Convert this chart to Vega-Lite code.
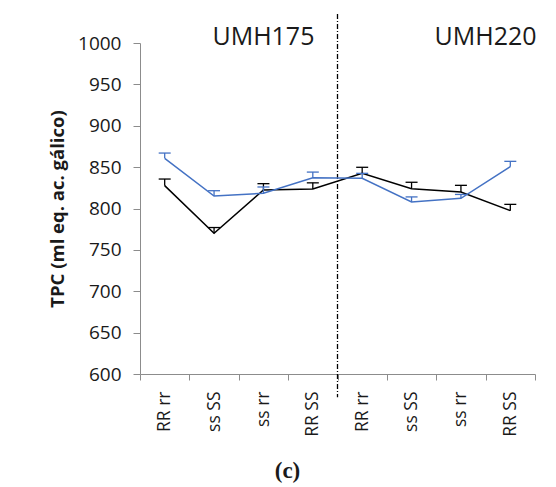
{
  "$schema": "https://vega.github.io/schema/vega-lite/v6.json",
  "width": 395,
  "height": 331,
  "autosize": "none",
  "padding": {"left": 140, "top": 43, "right": 21, "bottom": 113},
  "config": {
    "view": {"stroke": null},
    "font": "Open Sans",
    "axis": {"grid": false, "domainColor": "#8c8c8c", "tickColor": "#8c8c8c", "labelColor": "#1a1a1a", "titleColor": "#1a1a1a"}
  },
  "title": {"text": "(c)", "orient": "bottom", "anchor": "middle", "dx": -50, "offset": 24, "fontSize": 23, "fontWeight": "bold", "font": "Liberation Serif", "color": "#1a1a1a", "baseline": "top"},
  "datasets": {
    "pts": [
      {"series": "negro", "key": "UMH175 RR rr", "value": 827.6, "upper": 835.6},
      {"series": "negro", "key": "UMH175 ss SS", "value": 770, "upper": 777},
      {"series": "negro", "key": "UMH175 ss rr", "value": 822.4, "upper": 830},
      {"series": "negro", "key": "UMH175 RR SS", "value": 823.6, "upper": 831},
      {"series": "negro", "key": "UMH220 RR rr", "value": 842.5, "upper": 849.8},
      {"series": "negro", "key": "UMH220 ss SS", "value": 824, "upper": 831.7},
      {"series": "negro", "key": "UMH220 ss rr", "value": 820, "upper": 828},
      {"series": "negro", "key": "UMH220 RR SS", "value": 797.4, "upper": 805},
      {"series": "azul", "key": "UMH175 RR rr", "value": 860.6, "upper": 867},
      {"series": "azul", "key": "UMH175 ss SS", "value": 815, "upper": 821.5},
      {"series": "azul", "key": "UMH175 ss rr", "value": 818.4, "upper": 826},
      {"series": "azul", "key": "UMH175 RR SS", "value": 837.2, "upper": 844},
      {"series": "azul", "key": "UMH220 RR rr", "value": 836.5, "upper": 842.5},
      {"series": "azul", "key": "UMH220 ss SS", "value": 807.9, "upper": 814},
      {"series": "azul", "key": "UMH220 ss rr", "value": 812.3, "upper": 817},
      {"series": "azul", "key": "UMH220 RR SS", "value": 850.5, "upper": 857}
    ],
    "label175": [{"key": "UMH175 ss rr", "text": "UMH175"}],
    "label220": [{"key": "UMH220 RR SS", "text": "UMH220"}],
    "sep": [{"key": "UMH175 RR SS", "top": 1035, "bottom": 572}]
  },
  "layer": [
    {
      "data": {"name": "sep"},
      "mark": {"type": "rule", "color": "#000000", "strokeWidth": 1.3, "strokeDash": [5, 2, 1, 2]},
      "encoding": {
        "x": {"field": "key", "type": "nominal", "bandPosition": 1},
        "y": {"field": "top", "type": "quantitative"},
        "y2": {"field": "bottom"}
      }
    },
    {
      "data": {"name": "pts"},
      "mark": {"type": "line", "strokeWidth": 1.5},
      "encoding": {
        "x": {"field": "key", "type": "nominal"},
        "y": {"field": "value", "type": "quantitative"},
        "color": {"field": "series", "type": "nominal", "legend": null}
      }
    },
    {
      "data": {"name": "pts"},
      "mark": {"type": "rule", "strokeWidth": 1.3},
      "encoding": {
        "x": {"field": "key", "type": "nominal"},
        "y": {"field": "value", "type": "quantitative"},
        "y2": {"field": "upper"},
        "color": {"field": "series", "type": "nominal", "legend": null}
      }
    },
    {
      "data": {"name": "pts"},
      "mark": {"type": "tick", "size": 12, "thickness": 1.3, "opacity": 1},
      "encoding": {
        "x": {"field": "key", "type": "nominal"},
        "y": {"field": "upper", "type": "quantitative"},
        "color": {"field": "series", "type": "nominal", "legend": null}
      }
    },
    {
      "data": {"name": "label175"},
      "mark": {"type": "text", "fontSize": 25, "font": "Open Sans", "color": "#1a1a1a", "baseline": "middle", "align": "center"},
      "encoding": {
        "x": {"field": "key", "type": "nominal", "bandPosition": 0.5},
        "y": {"datum": 1007, "type": "quantitative"},
        "text": {"field": "text"}
      }
    },
    {
      "data": {"name": "label220"},
      "mark": {"type": "text", "fontSize": 25, "font": "Open Sans", "color": "#1a1a1a", "baseline": "middle", "align": "center"},
      "encoding": {
        "x": {"field": "key", "type": "nominal", "bandPosition": 0},
        "y": {"datum": 1007, "type": "quantitative"},
        "text": {"field": "text"}
      }
    }
  ],
  "encoding": {
    "x": {
      "field": "key",
      "type": "nominal",
      "scale": {"type": "band", "domain": ["UMH175 RR rr", "UMH175 ss SS", "UMH175 ss rr", "UMH175 RR SS", "UMH220 RR rr", "UMH220 ss SS", "UMH220 ss rr", "UMH220 RR SS"], "paddingInner": 0, "paddingOuter": 0},
      "axis": {"title": null, "labelExpr": "slice(datum.label, 7)", "labelAngle": -90, "labelAlign": "right", "labelBaseline": "middle", "labelFontSize": 17.5, "labelPadding": 11, "tickSize": 6, "tickBand": "extent"}
    },
    "y": {
      "type": "quantitative",
      "scale": {"domain": [600, 1000], "nice": false, "zero": false},
      "axis": {"title": "TPC (ml eq. ac. gálico)", "titleFontSize": 18.5, "titleFontWeight": "bold", "titlePadding": 10, "labelFontSize": 19, "labelPadding": 12, "tickSize": 7, "format": "d", "values": [600, 650, 700, 750, 800, 850, 900, 950, 1000]}
    },
    "color": {
      "scale": {"domain": ["negro", "azul"], "range": ["#000000", "#4472C4"]}
    }
  }
}
